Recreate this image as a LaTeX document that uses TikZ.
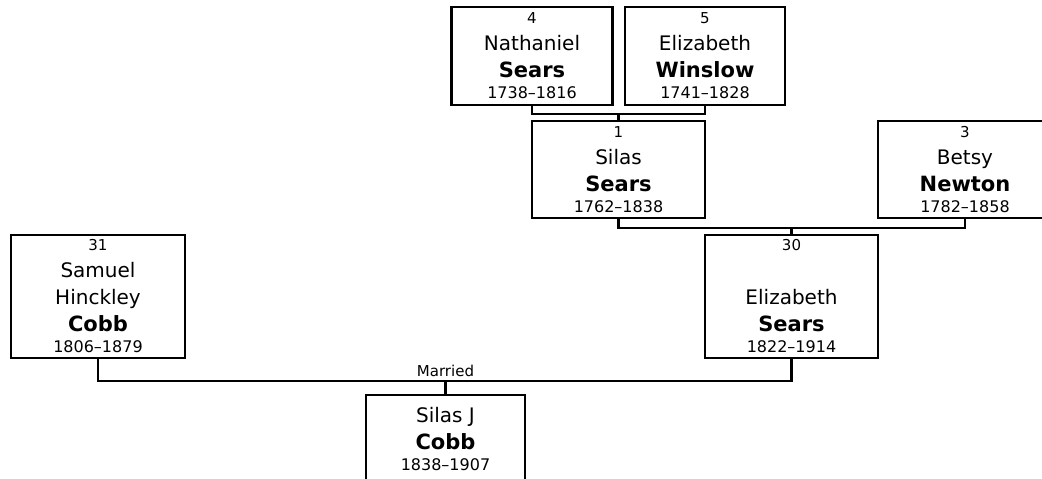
\documentclass[tikz,border=0pt]{standalone}
\usepackage{fontspec}
\setmainfont{DejaVu Sans}
\newcommand{\pnum}[1]{{\fontsize{15}{27}\selectfont #1}}
\newcommand{\psur}[1]{{\fontsize{21}{27}\selectfont\bfseries #1}}
\newcommand{\pyears}[1]{{\fontsize{16}{27}\selectfont #1}}
\begin{document}
\begin{tikzpicture}[x=1pt, y=-1pt,
    person/.style={draw, line width=2.2pt, align=center, inner sep=0pt,
      font=\fontsize{20}{27}\selectfont},
    link/.style={line width=2.2pt}]
  \useasboundingbox (0,0) rectangle (1042,479);
  \clip (0,0) rectangle (1042,479);
  \node[person, minimum width=161pt, minimum height=98pt] (n4) at (532,56)
    {\pnum{4}\\Nathaniel\\\psur{Sears}\\[-6pt]\pyears{1738–1816}};
  \node[person, minimum width=160pt, minimum height=98pt] (n5) at (705,56)
    {\pnum{5}\\Elizabeth\\\psur{Winslow}\\[-6pt]\pyears{1741–1828}};
  \node[person, minimum width=173pt, minimum height=97pt] (n1) at (618.5,169.5)
    {\pnum{1}\\Silas\\\psur{Sears}\\[-6pt]\pyears{1762–1838}};
  \node[person, minimum width=174pt, minimum height=97pt] (n3) at (965,169.5)
    {\pnum{3}\\Betsy\\\psur{Newton}\\[-6pt]\pyears{1782–1858}};
  \node[person, minimum width=173pt, minimum height=123pt] (n30) at (791.5,296.5)
    {\pnum{30}\\[27pt]Elizabeth\\\psur{Sears}\\[-6pt]\pyears{1822–1914}};
  \node[person, minimum width=174pt, minimum height=123pt] (n31) at (98,296.5)
    {\pnum{31}\\Samuel\\Hinckley\\\psur{Cobb}\\[-6pt]\pyears{1806–1879}};
  \node[person, minimum width=159pt, minimum height=89pt] (n0) at (445.5,439.5)
    {Silas J\\\psur{Cobb}\\[-6pt]\pyears{1838–1907}};
  \draw[link] (n4.south) -- ++(0,8) coordinate (m45) -| (n5.south);
  \draw[link] (n1.north) -- (n1.north |- m45);
  \draw[link] (n1.south) -- ++(0,9) coordinate (m13) -| (n3.south);
  \draw[link] (n30.north) -- (n30.north |- m13);
  \draw[link] (n31.south) -- ++(0,22) coordinate (m3130) -| (n30.south);
  \draw[link] (n0.north) -- (n0.north |- m3130)
    node (married) [above, inner sep=3pt, font=\fontsize{15}{18}\selectfont] {Married};
\end{tikzpicture}
\end{document}
